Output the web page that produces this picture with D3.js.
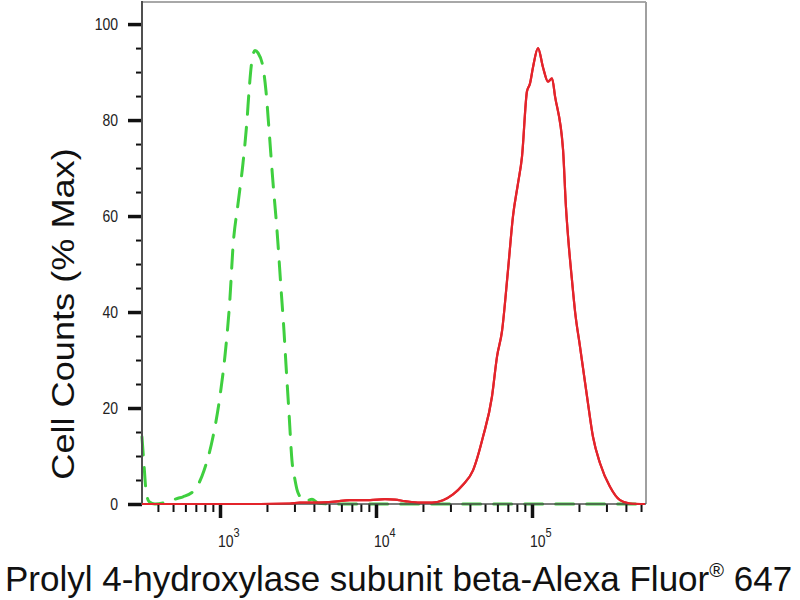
<!DOCTYPE html>
<html><head><meta charset="utf-8">
<script src="https://cdn.jsdelivr.net/npm/d3@7"></script>
<style>body{margin:0;background:#fff}svg{display:block}</style>
</head><body><svg id="c" width="800" height="600"></svg>
<script>
// ---- data ----
const isotypeIntensity = [316,326,335,351,383,444,492,538,579,691,790,902,1000,1077,1159,1211,1304,1404,1490,1535,1604,1676,1752,1886,1972,2062,2186,2320,2460,2572,2649,2769,2894,3026,3116,3256,3506,3889,4248,5071,10000,50000,100000,300000,530000];
const isotypeCounts    = [14,8,3,0.5,0,0.3,0.8,1.2,1.5,3,7,14,22.5,31,43,53.5,62.5,71,80,86,92.5,94.5,94,91,86,78,67,57,45,36,29,19,9,5,3,1.5,0.5,1,0.2,0,0,0,0,0,0];
const stainedIntensity = [316,1805,2810,3256,4064,5461,6813,9153,11420,13240,15350,19150,22860,26890,31160,36120,41870,48530,55410,59670,64220,70200,75550,81340,86290,92880,97090,101500,109300,117600,126700,134400,140400,158000,165000,172000,180000,189000,203100,225300,246000,272900,316200,366600,424800,530000];
const stainedCounts    = [0,0,0.1,0.3,0.3,0.5,0.8,0.8,1.0,0.9,0.6,0.3,0.3,0.8,2,4,7,14,22.4,30.7,36,48.8,60,66.8,72.4,86,87.6,91,95,91,88,88.7,85,74,62,54,47,40,32.8,22.4,14,8.5,3.6,0.8,0.1,0];
const xMajorTicks = [1e3,1e4,1e5];
const xTickExponents = ["3","4","5"];
const xMinorTicks = [400,500,600,700,800,900,2000,3000,4000,5000,6000,7000,8000,9000,20000,30000,40000,50000,60000,70000,80000,90000,200000,300000,400000,500000];
const yMajorTicks = [0,20,40,60,80,100];
const yMinorTicks = [5,10,15,25,30,35,45,50,55,65,70,75,85,90,95];
const xTitle = "Prolyl 4-hydroxylase subunit beta-Alexa Fluor";
const xTitleMark = "®";
const xTitleTail = " 647";
const yTitle = "Cell Counts (% Max)";

// ---- layout ----
const L = 142, R = 646, T = 2, B = 504;
const svg = d3.select("#c");
const x = d3.scaleLog().domain([Math.pow(10,2.5), Math.pow(10,5.7308)]).range([L, R]);
const y = d3.scaleLinear().domain([0, 104.6]).range([B, T]);

// frame (top/right light gray)
svg.append("line").attr("x1",L).attr("x2",R).attr("y1",T).attr("y2",T).attr("stroke","#a8a8a8").attr("stroke-width",2);
svg.append("line").attr("x1",R).attr("x2",R).attr("y1",T).attr("y2",B).attr("stroke","#a0a0a0").attr("stroke-width",2);

// curves
const line = d3.line().x(d=>x(d[0])).y(d=>y(d[1])).curve(d3.curveMonotoneX);
svg.append("path").datum(d3.zip(isotypeIntensity, isotypeCounts))
  .attr("d", line).attr("fill","none").attr("stroke","#3fcf3f").attr("stroke-width",3)
  .attr("stroke-dasharray","18,13").attr("stroke-linecap","round");
svg.append("path").datum(d3.zip(stainedIntensity, stainedCounts))
  .attr("d", line).attr("fill","none").attr("stroke","#e3242b").attr("stroke-width",2.2);

// axes
function styleAxis(g, w){ g.select(".domain").remove(); g.selectAll(".tick line").attr("stroke","#111").attr("stroke-width",w); g.selectAll("text").remove(); }
svg.append("g").attr("transform",`translate(0,${B})`)
  .call(d3.axisBottom(x).tickValues(xMinorTicks).tickSize(8).tickFormat(""))
  .call(g=>styleAxis(g,2));
svg.append("g").attr("transform",`translate(0,${B})`)
  .call(d3.axisBottom(x).tickValues(xMajorTicks).tickSize(14).tickFormat(""))
  .call(g=>styleAxis(g,3.5));
svg.append("g").attr("transform",`translate(${L},0)`)
  .call(d3.axisLeft(y).tickValues(yMinorTicks).tickSize(6).tickFormat(""))
  .call(g=>styleAxis(g,2));
svg.append("g").attr("transform",`translate(${L},0)`)
  .call(d3.axisLeft(y).tickValues(yMajorTicks).tickSize(14).tickFormat(""))
  .call(g=>styleAxis(g,3.5));
svg.append("line").attr("x1",L).attr("x2",L).attr("y1",T-1).attr("y2",B+1).attr("stroke","#505050").attr("stroke-width",2);
svg.append("line").attr("x1",L).attr("x2",R).attr("y1",B).attr("y2",B).attr("stroke","#505050").attr("stroke-width",1.5);
// redraw stained baseline over axis
svg.append("path").datum(d3.zip(stainedIntensity, stainedCounts))
  .attr("d", line).attr("fill","none").attr("stroke","#e3242b").attr("stroke-width",2.2);

const font = "Liberation Sans, Arial, sans-serif";
// y tick labels
yMajorTicks.forEach(v=>{
  svg.append("text").attr("transform",`translate(118,${y(v)+6}) scale(1,1.2)`)
    .attr("text-anchor","end").attr("font-family",font).attr("font-size",14).attr("fill","#222").text(v);
});
// x tick labels
xMajorTicks.forEach((v,i)=>{
  const t = svg.append("text").attr("transform",`translate(${x(v)-2},547) scale(1,1.2)`)
    .attr("font-family",font).attr("font-size",14).attr("fill","#222");
  t.append("tspan").text("10");
  t.append("tspan").attr("font-size",11).attr("dy",-8).text(xTickExponents[i]);
});
// titles
const xt = svg.append("text").attr("x",5).attr("y",591).attr("font-family",font).attr("font-size",35).attr("fill","#111");
xt.append("tspan").text(xTitle);
xt.append("tspan").attr("font-size",20).attr("dy",-14).text(xTitleMark);
xt.append("tspan").attr("dy",14).text(xTitleTail);
svg.append("text").attr("transform","translate(74,314) rotate(-90) scale(1.13,1)")
  .attr("text-anchor","middle").attr("font-family",font).attr("font-size",32).attr("fill","#111").text(yTitle);
</script></body></html>
